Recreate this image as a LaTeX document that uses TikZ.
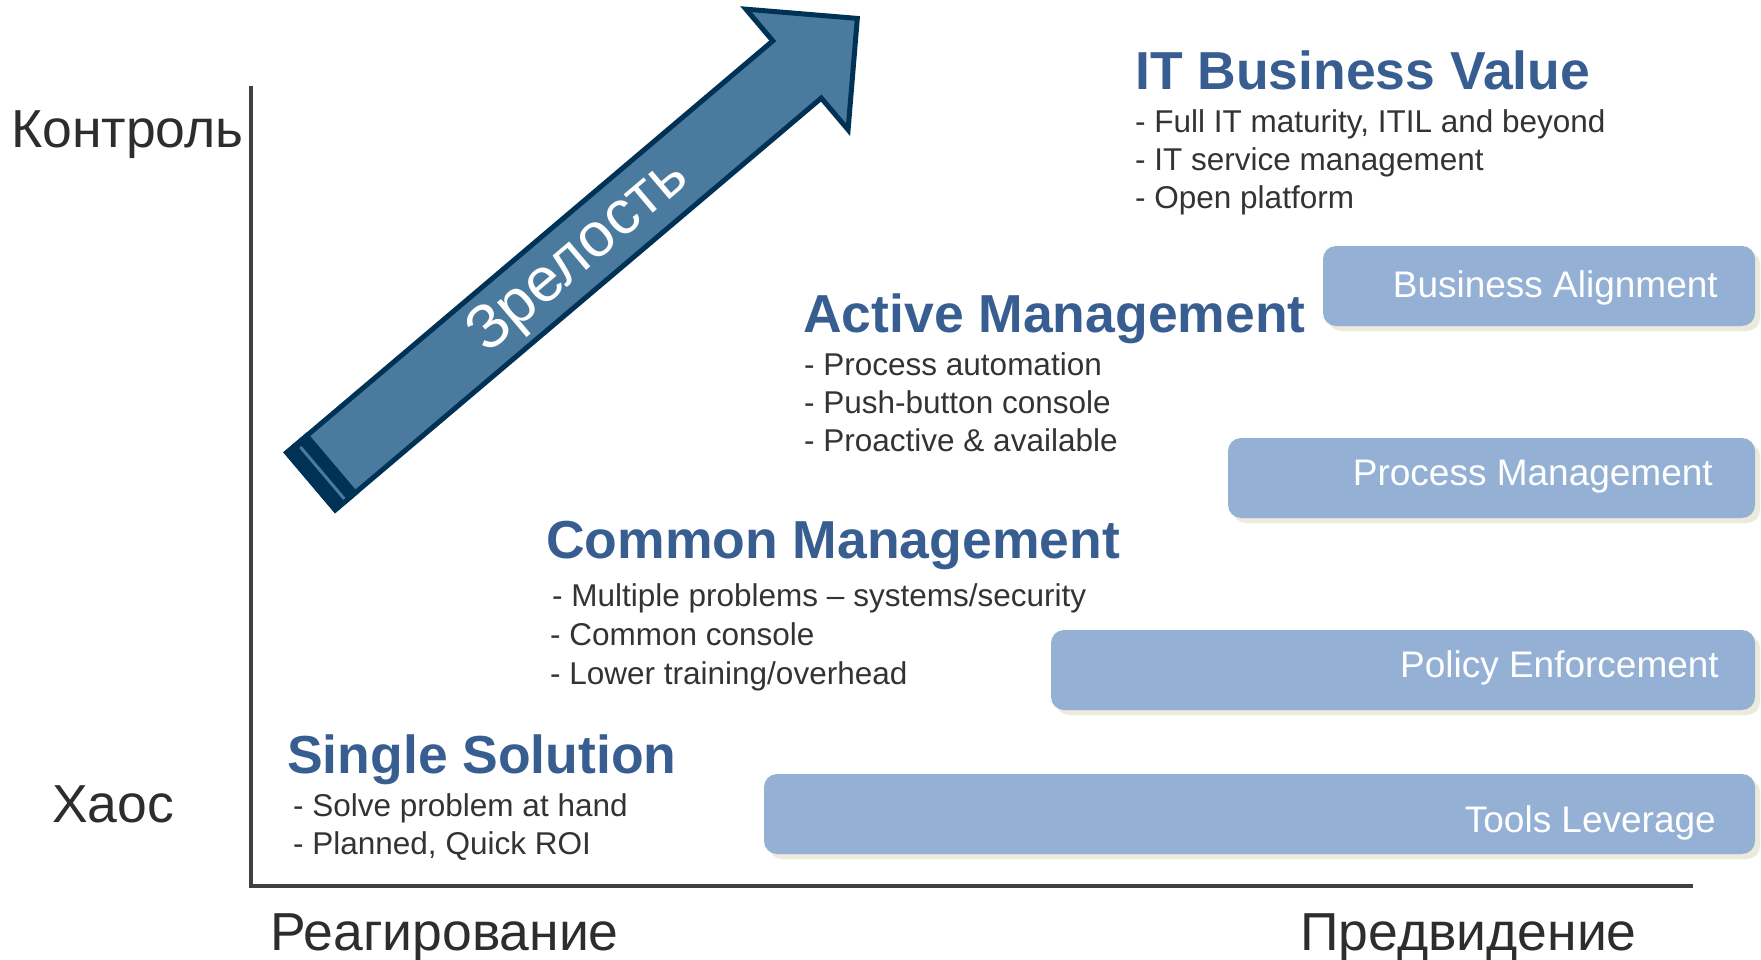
\documentclass[tikz,border=0pt]{standalone}
\usepackage{fontspec}
\setmainfont{Liberation Sans}
\definecolor{headblue}{RGB}{56,94,145}
\definecolor{bodygray}{RGB}{51,51,51}
\definecolor{labgray}{RGB}{45,45,45}
\definecolor{axisgray}{RGB}{64,64,64}
\definecolor{barfill}{RGB}{149,176,213}
\definecolor{barshadow}{RGB}{236,233,221}
\definecolor{arrowfill}{RGB}{74,122,158}
\definecolor{arrowdark}{RGB}{0,50,85}
\tikzset{
  head/.style={anchor=base west, inner sep=0pt, text=headblue, font=\fontsize{53.5}{60}\selectfont\bfseries},
  bul/.style={anchor=base west, inner sep=0pt, text=bodygray, font=\fontsize{31.5}{36}\selectfont},
  axlab/.style={anchor=base west, inner sep=0pt, text=labgray, font=\fontsize{53.5}{60}\selectfont},
  barbox/.style={fill=barfill, rounded corners=13pt},
  barshade/.style={fill=barshadow, rounded corners=13pt},
  bartext/.style={anchor=base east, inner sep=0pt, text=white, font=\fontsize{37}{42}\selectfont},
}
\begin{document}
\begin{tikzpicture}[x=1pt,y=-1pt]
\useasboundingbox (0,0) rectangle (1761,960);
% axes
\coordinate (ytop) at (251,86);
\coordinate (origin) at (251,886);
\coordinate (xend) at (1693,886);
\draw[axisgray, line width=4pt, line join=miter] (ytop) -- (origin) -- (xend);
\node[axlab] (kontrol) at (11,148) {Контроль};
\node[axlab] (haos) at (52,822) {Хаос};
\node[axlab] (reag) at (270,950) {Реагирование};
\node[axlab] (predv) at (1300,950) {Предвидение};
% arrow
\begin{scope}[shift={(309.5,482.5)}, rotate=40.27]
  \filldraw[fill=arrowfill, draw=arrowdark, line width=5pt, line join=miter]
    (2,-37.5) -- (639,-37.5) -- (639,-79) -- (718,0) -- (639,79) -- (639,37.5) -- (2,37.5) -- cycle;
  \filldraw[fill=arrowdark, draw=arrowdark, line width=5pt, line join=miter]
    (2,-37.5) rectangle (28,37.5);
  \draw[arrowfill, line width=3pt] (16,-33) -- (16,35);
  \node[transform shape, text=white, inner sep=0pt, font=\fontsize{62}{70}\selectfont] (zrel) at (352,2) {Зрелость};
\end{scope}
% bars
\fill[barshade] (1328,251) rectangle (1760,331);
\fill[barbox] (1323,246) rectangle (1755,326);
\fill[barshade] (1233,443) rectangle (1760,523);
\fill[barbox] (1228,438) rectangle (1755,518);
\fill[barshade] (1056,635) rectangle (1760,715);
\fill[barbox] (1051,630) rectangle (1755,710);
\fill[barshade] (769,779) rectangle (1760,859);
\fill[barbox] (764,774) rectangle (1755,854);
\node[bartext] (ba) at (1718,297) {Business Alignment};
\node[bartext] (pm) at (1713,485) {Process Management};
\node[bartext] (pe) at (1719,677) {Policy Enforcement};
\node[bartext] (tl) at (1716,832) {Tools Leverage};
% IT Business Value
\node[head] (itbv) at (1135,90) {IT Business Value};
\node[bul] (it1) at (1135,133) {- Full IT maturity, ITIL and beyond};
\node[bul] (it2) at (1135,171) {- IT service management};
\node[bul] (it3) at (1135,209) {- Open platform};
% Active Management
\node[head] (am) at (803,332) {Active Management};
\node[bul] (am1) at (804,375) {- Process automation};
\node[bul] (am2) at (804,413) {- Push-button console};
\node[bul] (am3) at (804,451) {- Proactive \& available};
% Common Management
\node[head] (cm) at (546,558) {Common Management};
\node[bul] (cm1) at (552,606) {- Multiple problems – systems/security};
\node[bul] (cm2) at (550,645) {- Common console};
\node[bul] (cm3) at (550,684) {- Lower training/overhead};
% Single Solution
\node[head] (ss) at (287,773) {Single Solution};
\node[bul] (ss1) at (293,816) {- Solve problem at hand};
\node[bul] (ss2) at (293,854) {- Planned, Quick ROI};
\end{tikzpicture}
\end{document}
